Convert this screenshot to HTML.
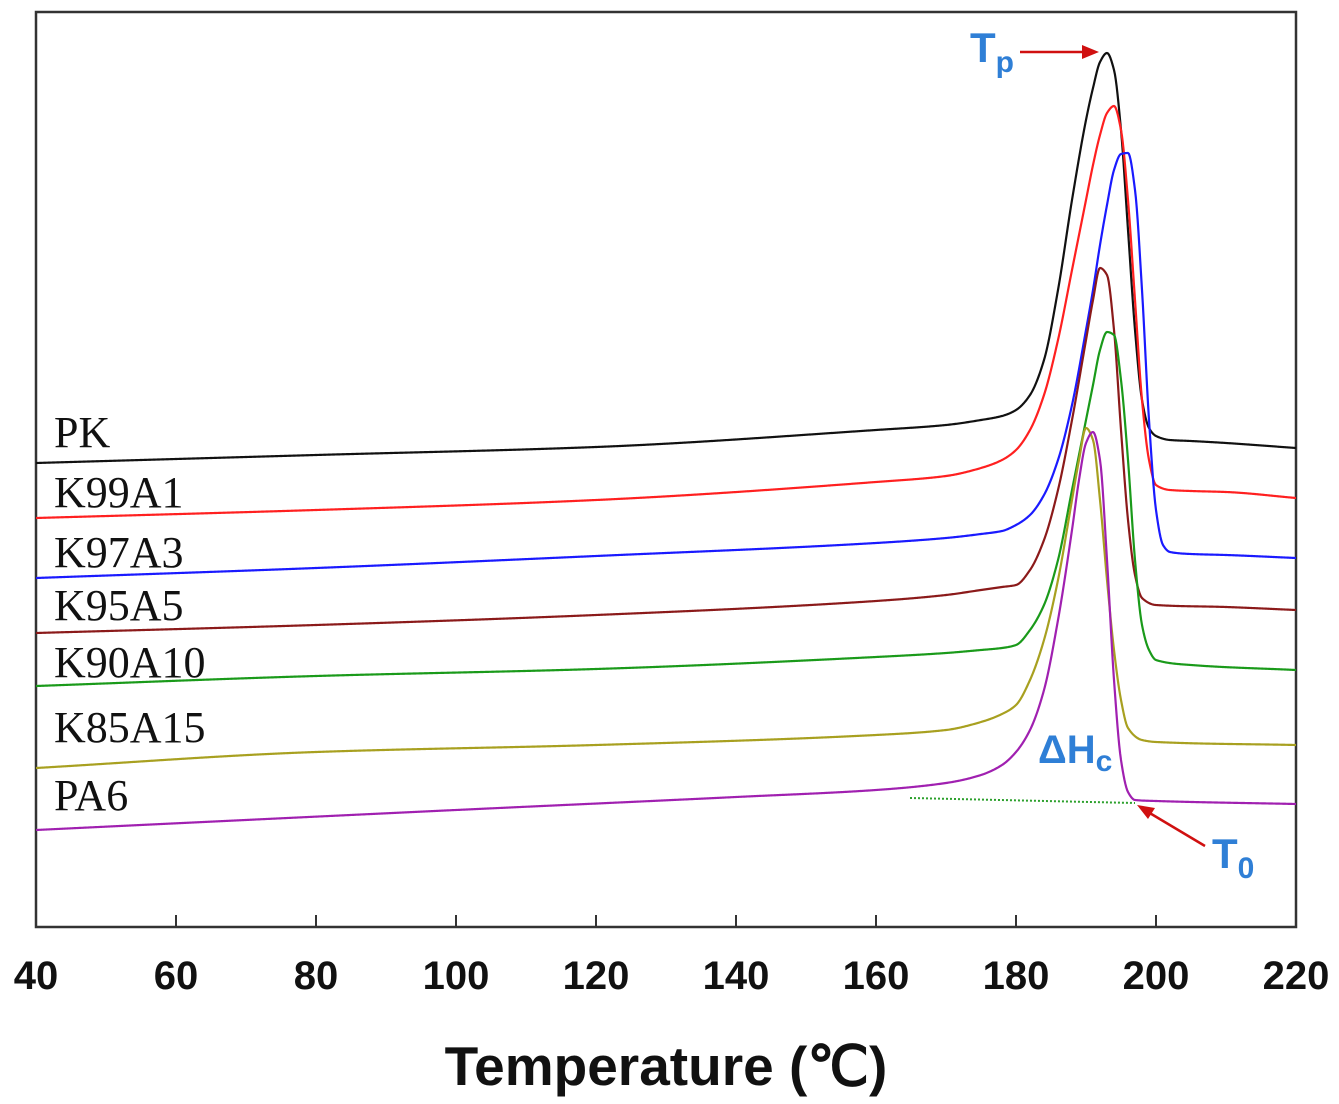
<!DOCTYPE html>
<html><head><meta charset="utf-8"><style>
body{margin:0;background:#fff;width:1339px;height:1104px;overflow:hidden}
svg{display:block}
</style></head><body>
<svg id="chart" width="1339" height="1104" xmlns="http://www.w3.org/2000/svg">
<rect x="36" y="12" width="1260" height="915" fill="none" stroke="#333" stroke-width="2.5"/>
<g id="ticks"></g>
<g id="curves"></g>
<g id="labels" font-family="Liberation Serif, serif" font-size="44" fill="#111"></g>
<text x="666" y="1085" text-anchor="middle" font-family="Liberation Sans, sans-serif" font-weight="bold" font-size="55" fill="#111">Temperature (℃)</text>
<line x1="910" y1="798" x2="1135" y2="803" stroke="#2ca02c" stroke-width="2" stroke-dasharray="2,2"/>
<g>
<text x="970" y="62" font-family="Liberation Sans, sans-serif" font-weight="bold" font-size="42" fill="#2f7fd6">T<tspan font-size="30" dy="10">p</tspan></text>
<line x1="1020" y1="52" x2="1085" y2="52" stroke="#d01010" stroke-width="2.5"/>
<polygon points="1099,52 1082,45 1082,59" fill="#d01010"/>
</g>
<g>
<text x="1038" y="763" font-family="Liberation Sans, sans-serif" font-weight="bold" font-size="40" fill="#2f7fd6">ΔH<tspan font-size="30" dy="8">c</tspan></text>
</g>
<g>
<text x="1212" y="868" font-family="Liberation Sans, sans-serif" font-weight="bold" font-size="42" fill="#2f7fd6">T<tspan font-size="30" dy="10">0</tspan></text>
<line x1="1205" y1="846" x2="1148" y2="812" stroke="#d01010" stroke-width="2.5"/>
<polygon points="1137,805 1155,808 1148,819" fill="#d01010"/>
</g>
</svg>
<script>
const xTicks=[40,60,80,100,120,140,160,180,200,220];
const seriesNames=["PK","K99A1","K97A3","K95A5","K90A10","K85A15","PA6"];
const seriesColors=["#111111","#ff2020","#1a1aff","#8b1a1a","#1a9a1a","#a8a020","#a020b0"];
const tPK=[40,80,120,160,170,175,178,180,182,184,186,188,190,191,192,193,194,195,196,197,198,199,200,202,205,210,220];
const hPK=[464,472,480,497,502,507,511,517,532,567,637,727,807,839,865,874,857,797,697,597,527,499,491,487,486,484,479];
const tK99=[40,80,120,160,170,175,178,180,182,184,186,188,190,191,192,193,194,195,196,197,198,199,200,202,205,210,220];
const hK99=[409,417,427,445,451,459,467,477,497,532,587,657,727,762,792,814,821,797,727,627,527,467,442,437,436,435,429];
const tK97=[40,80,120,160,170,175,178,180,182,184,186,188,190,191,192,193,194,195,196,197,198,199,200,201,202,205,210,220];
const hK97=[349,359,371,384,389,393,396,402,412,432,467,522,597,637,682,722,757,773,774,737,637,507,417,382,375,373,372,369];
const tK95=[40,80,120,160,170,175,178,180,182,184,186,188,190,191,192,193,194,195,196,197,198,200,210,220];
const hK95=[294,302,312,326,332,337,340,342,357,387,437,507,587,627,659,652,597,497,407,352,329,322,320,317];
const tK90=[40,80,120,160,170,175,178,180,182,184,186,188,190,191,192,193,194,195,196,197,198,199,200,205,220];
const hK90=[241,251,258,270,274,277,279,282,297,322,367,437,507,542,577,595,592,547,467,367,302,277,267,262,257];
const tK85=[40,80,120,160,170,175,178,180,182,184,186,188,189,190,191,192,193,194,195,196,198,200,220];
const hK85=[159,175,182,192,197,205,213,222,247,287,347,427,467,499,487,427,347,277,227,199,187,185,182];
const tPA6=[40,100,140,160,170,175,178,180,182,184,186,188,189,190,191,192,193,194,195,196,197,200,220];
const hPA6=[97,117,130,137,144,152,162,175,197,237,307,397,447,484,495,467,367,247,167,135,127,126,123];

const tData=[tPK,tK99,tK97,tK95,tK90,tK85,tPA6];
const hData=[hPK,hK99,hK97,hK95,hK90,hK85,hPA6];
const labelH=[480,420,360,307,250,185,117];

const X0=36,X1=1296,Y0=927,Y1=12;
function xs(t){return X0+(t-40)/(220-40)*(X1-X0);}
function ys(v){return Y0-(v-0)/(915-0)*(Y0-Y1);}
const NS="http://www.w3.org/2000/svg";
const tg=document.getElementById('ticks');
xTicks.forEach(t=>{
  const l=document.createElementNS(NS,'line');
  
  
  l.setAttribute('x1',xs(t));l.setAttribute('x2',xs(t));
  l.setAttribute('y1',Y0);l.setAttribute('y2',Y0-12);
  l.setAttribute('stroke','#333');l.setAttribute('stroke-width','2');
  tg.appendChild(l);
  const tx=document.createElementNS(NS,'text');
  
  
  tx.setAttribute('x',xs(t));tx.setAttribute('y',989);
  tx.setAttribute('text-anchor','middle');
  tx.setAttribute('font-family','Liberation Sans, sans-serif');
  tx.setAttribute('font-weight','bold');tx.setAttribute('font-size','40');
  tx.setAttribute('fill','#111');
  tx.textContent=t;
  tg.appendChild(tx);
});
// monotone cubic (Fritsch-Carlson) interpolation in data space, sampled densely
function monoPath(T,H){
  const n=T.length,d=[],m=new Array(n);
  for(let i=0;i<n-1;i++)d.push((H[i+1]-H[i])/(T[i+1]-T[i]));
  m[0]=d[0];m[n-1]=d[n-2];
  for(let i=1;i<n-1;i++){
    if(d[i-1]*d[i]<=0)m[i]=0;
    else{const w1=2*(T[i+1]-T[i])+(T[i]-T[i-1]),w2=(T[i+1]-T[i])+2*(T[i]-T[i-1]);
      m[i]=(w1+w2)/(w1/d[i-1]+w2/d[i]);}
  }
  let s='';
  for(let i=0;i<n-1;i++){
    const h=T[i+1]-T[i],steps=Math.max(4,Math.ceil(h*8));
    for(let k=(i===0?0:1);k<=steps;k++){
      const u=k/steps,u2=u*u,u3=u2*u;
      const v=(2*u3-3*u2+1)*H[i]+(u3-2*u2+u)*h*m[i]+(-2*u3+3*u2)*H[i+1]+(u3-u2)*h*m[i+1];
      const t=T[i]+u*h;
      s+=(s?'L':'M')+xs(t).toFixed(2)+','+ys(v).toFixed(2);
    }
  }
  return s;
}
const cg=document.getElementById('curves');
const lg=document.getElementById('labels');
seriesNames.forEach((n,i)=>{
  const p=document.createElementNS(NS,'path');
  
  
  p.setAttribute('d',monoPath(tData[i],hData[i]));
  p.setAttribute('fill','none');p.setAttribute('stroke',seriesColors[i]);
  p.setAttribute('stroke-width','2.2');
  p.setAttribute('stroke-linejoin','round');
  cg.appendChild(p);
  const tx=document.createElementNS(NS,'text');
  
  
  tx.setAttribute('x',54);tx.setAttribute('y',ys(labelH[i]));
  tx.textContent=n;
  lg.appendChild(tx);
});
</script>
</body></html>
